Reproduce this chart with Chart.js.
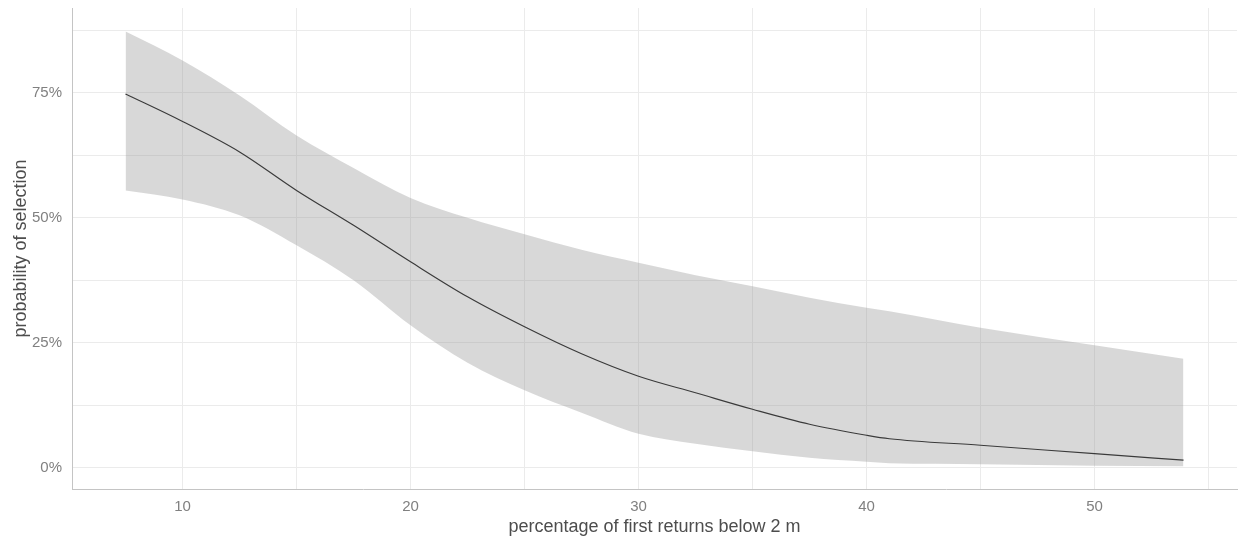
<!DOCTYPE html>
<html>
<head>
<meta charset="utf-8">
<title>probability of selection</title>
<script src="https://cdn.jsdelivr.net/npm/chart.js@4/dist/chart.umd.min.js"></script>
<style>
    html, body { margin: 0; padding: 0; background: #fff; }
    #wrap { width: 1238px; height: 542px; position: relative; }
</style>
</head>
<body>
<div id="wrap"><canvas id="chart"></canvas></div>
<script>
// percentage of first returns below 2 m (x positions of the fitted curve)
const firstReturns = [7.5, 10, 12.5, 15, 17.5, 20, 22.5, 25, 27.5, 30, 32.5, 35, 37.5, 40, 41, 45, 50, 53.9];
// fitted probability of selection, in %
const fitted = [74.8, 69.3, 63.2, 55.5, 48.5, 41.2, 34.2, 28.2, 22.8, 18.3, 15.0, 11.7, 8.7, 6.5, 5.8, 4.5, 2.8, 1.5];
// confidence band
const upperBand = [87.3, 81.5, 74.5, 66.5, 60.0, 54.0, 50.0, 46.7, 43.6, 41.0, 38.5, 36.3, 34.0, 32.0, 31.3, 28.0, 24.5, 21.8];
const lowerBand = [55.5, 53.7, 50.5, 44.5, 37.5, 28.5, 21.0, 15.5, 11.0, 6.8, 4.8, 3.3, 2.0, 1.2, 0.9, 0.7, 0.4, 0.3];

// gridlines (major + minor) and the labelled ticks
const xGrid = [10, 15, 20, 25, 30, 35, 40, 45, 50, 55];
const xLabels = [10, 20, 30, 40, 50];
const yGrid = [0, 12.5, 25, 37.5, 50, 62.5, 75, 87.5];
const yLabels = [0, 25, 50, 75];

const toPoints = (vals) => firstReturns.map((x, i) => ({ x: x, y: vals[i] }));

const tickFont = { family: '"Liberation Sans", Arial, sans-serif', size: 15 };
const titleFont = { family: '"Liberation Sans", Arial, sans-serif', size: 18, lineHeight: 1 };

new Chart(document.getElementById('chart'), {
    type: 'line',
    data: {
        datasets: [
            {
                label: 'upper',
                data: toPoints(upperBand),
                borderWidth: 0,
                pointRadius: 0,
                fill: '+1',
                backgroundColor: 'rgba(153,153,153,0.38)',
                cubicInterpolationMode: 'monotone'
            },
            {
                label: 'lower',
                data: toPoints(lowerBand),
                borderWidth: 0,
                pointRadius: 0,
                fill: false,
                cubicInterpolationMode: 'monotone'
            },
            {
                label: 'fit',
                data: toPoints(fitted),
                borderColor: '#000',
                borderWidth: 1.2,
                pointRadius: 0,
                fill: false,
                cubicInterpolationMode: 'monotone'
            }
        ]
    },
    options: {
        responsive: true,
        maintainAspectRatio: false,
        devicePixelRatio: 1,
        animation: false,
        events: [],
        layout: { padding: { top: 8, right: 1, left: 0, bottom: 0 } },
        plugins: {
            legend: { display: false },
            tooltip: { enabled: false }
        },
        scales: {
            x: {
                type: 'linear',
                min: 5.15,
                max: 56.25,
                afterBuildTicks: (scale) => { scale.ticks = xGrid.map(v => ({ value: v })); },
                afterFit: (scale) => {
                    scale.height = 53;
                    scale.paddingLeft = 0;
                    scale.paddingRight = 0;
                },
                grid: { color: '#ebebeb', lineWidth: 1, drawTicks: false },
                border: { display: true, color: '#c4c4c4', width: 1 },
                ticks: {
                    font: tickFont,
                    color: '#808080',
                    padding: 9,
                    maxRotation: 0,
                    autoSkip: false,
                    callback: (v) => xLabels.includes(v) ? String(v) : ''
                },
                title: {
                    display: true,
                    text: 'percentage of first returns below 2 m',
                    font: titleFont,
                    color: '#4d4d4d',
                    padding: { top: 0, bottom: 6 }
                }
            },
            y: {
                type: 'linear',
                min: -4.26,
                max: 92.0,
                afterBuildTicks: (scale) => { scale.ticks = yGrid.map(v => ({ value: v })); },
                afterFit: (scale) => {
                    scale.width = 72;
                    scale.paddingTop = 0;
                    scale.paddingBottom = 0;
                },
                grid: { color: '#ebebeb', lineWidth: 1, drawTicks: false },
                border: { display: true, color: '#c4c4c4', width: 1 },
                ticks: {
                    font: tickFont,
                    color: '#808080',
                    padding: 10,
                    autoSkip: false,
                    callback: (v) => yLabels.includes(v) ? v + '%' : ''
                },
                title: {
                    display: true,
                    text: 'probability of selection',
                    font: titleFont,
                    color: '#4d4d4d',
                    padding: { top: 12, bottom: 0 }
                }
            }
        }
    }
});
</script>
</body>
</html>
